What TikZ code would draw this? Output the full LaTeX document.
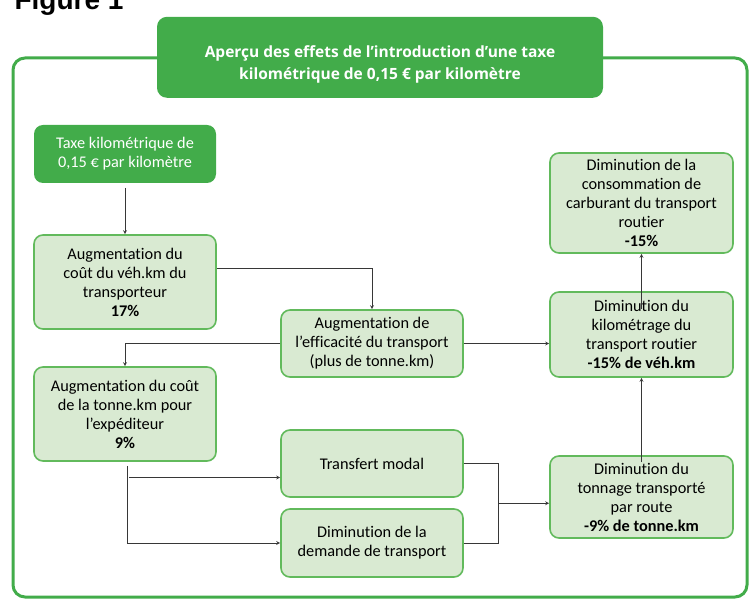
\documentclass[tikz,border=0pt]{standalone}
\usepackage{fontspec}
\setmainfont{Carlito}[Ligatures={TeX,NoCommon}]
\newfontfamily\headfont{Open Sans}
\newfontfamily\figfont{Liberation Sans}
\usetikzlibrary{arrows, positioning, calc}

\definecolor{leafgreen}{RGB}{66,172,74}
\definecolor{boxfill}{RGB}{217,234,210}
\definecolor{boxline}{RGB}{98,186,92}
\definecolor{linkgray}{RGB}{55,55,55}

\tikzset{
  effect/.style={draw=boxline, line width=1.6pt, fill=boxfill, rounded corners=9pt,
    minimum width=182pt, inner sep=0pt, align=center,
    font=\fontsize{16.3}{19}\selectfont},
  cause/.style={effect, draw=none, fill=leafgreen, text=white},
  link/.style={->, line width=0.8pt, draw=linkgray},
}

\begin{document}
\begin{tikzpicture}[>=stealth, x=1pt, y=-1pt]
  \useasboundingbox (0,0) rectangle (750,601);

  \node[anchor=base west, font=\figfont\bfseries\fontsize{28}{30}\selectfont] (figlabel) at (11,10) {Figure 1};

  % outer frame
  \draw[leafgreen, line width=3pt, rounded corners=12pt] (13,58) rectangle (747,597);

  \node[cause, anchor=north, minimum width=446pt, rounded corners=10pt, inner ysep=0pt,
    font=\headfont\bfseries\fontsize{15.5}{22}\selectfont] (title) at (380,16)
    {\rule{0pt}{41pt}Aperçu des effets de l’introduction d’une taxe\\kilométrique de 0,15 € par kilomètre\rule[-18pt]{0pt}{18pt}};

  \node[cause, minimum height=58pt] (taxe) at (125,154) {Taxe kilométrique de\\0,15 € par kilomètre};
  \node[effect, minimum height=94pt] (vehcost) at (125,282) {Augmentation du\\coût du véh.km du\\transporteur\\\textbf{17\%}};
  \node[effect, minimum height=67pt] (efficiency) at (372,343.5) {Augmentation de\\l’efficacité du transport\\(plus de tonne.km)};
  \node[effect, minimum height=94pt] (tonnecost) at (125,414) {Augmentation du coût\\de la tonne.km pour\\l’expéditeur\\\textbf{9\%}};
  \node[effect, minimum width=183pt, minimum height=100pt] (fuel) at (641.5,203) {Diminution de la\\consommation de\\carburant du transport\\routier\\\textbf{-15\%}};
  \node[effect, minimum width=183pt, minimum height=85pt] (vehkm) at (641.5,334.5) {Diminution du\\kilométrage du\\transport routier\\\textbf{-15\% de véh.km}};
  \node[effect, minimum height=67pt] (modal) at (372,463.5) {Transfert modal};
  \node[effect, minimum height=68pt] (demand) at (372,543) {Diminution de la\\demande de transport};
  \node[effect, minimum width=183pt, minimum height=82pt] (tonnage) at (641.5,497) {Diminution du\\tonnage transporté\\par route\\\textbf{-9\% de tonne.km}};

  % links
  \draw[link] ([yshift=-4pt]taxe.south) -- (vehcost.north);
  \draw[link] ([yshift=14pt]vehcost.east) -| (efficiency.north);
  \draw[link] (efficiency.west) -| (tonnecost.north);
  \draw[link] (efficiency.east) -- (vehkm.west |- efficiency.east);
  \draw[link] ([yshift=-18pt]vehkm.north) -- (fuel.south);
  \draw[link] ([yshift=-7pt]tonnage.north) -- (vehkm.south);

  \coordinate (split) at ([xshift=2pt, yshift=-4pt]tonnecost.south);
  \coordinate (modalin) at ([yshift=-14pt]modal.west);
  \draw[link] (split) |- (demand.west);
  \draw[link] ([xshift=2pt]split |- modalin) -- (modalin);

  \coordinate (join) at ($(modal.east)!0.5!(demand.east) + (35,0)$);
  \draw[line width=0.8pt, linkgray] (modal.east) -- ++(35,0) |- (demand.east);
  \draw[link] (join) -- (tonnage.west |- join);
\end{tikzpicture}
\end{document}
